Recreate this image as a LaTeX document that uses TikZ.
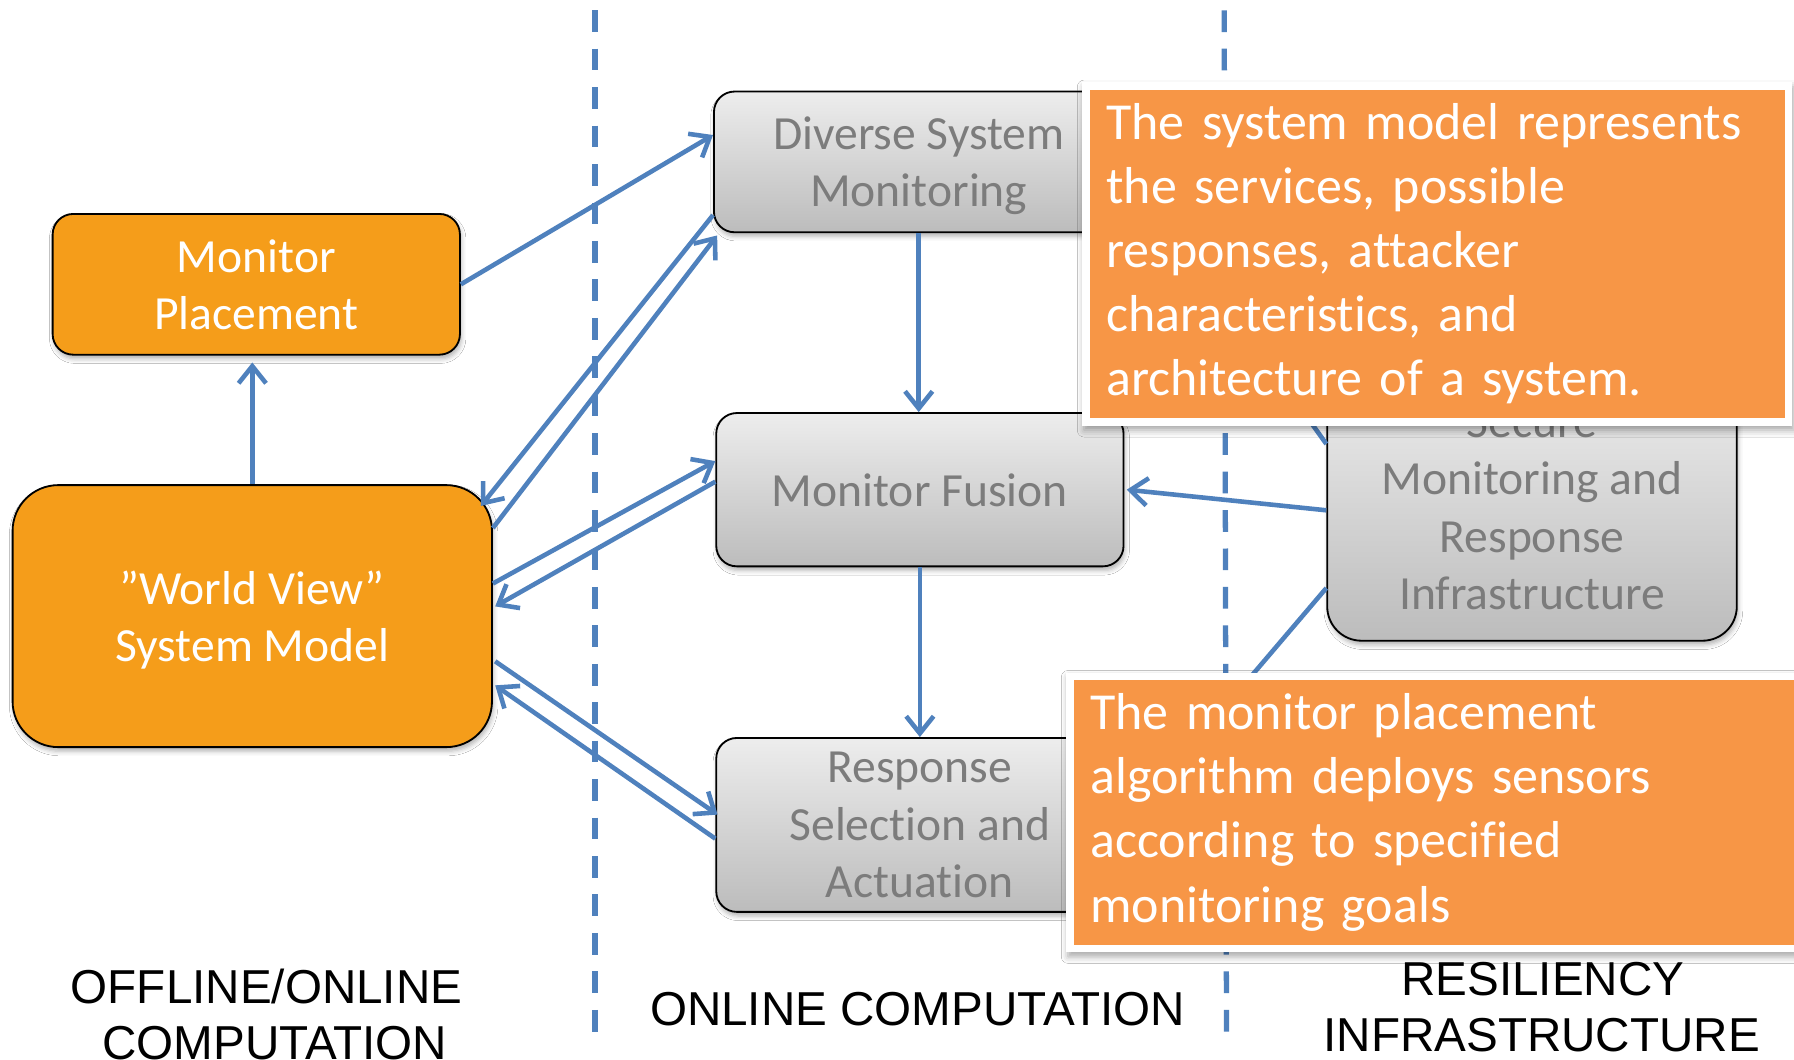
\documentclass[tikz,border=0pt]{standalone}
\usepackage{fontspec}
\setmainfont{Carlito}[Ligatures=NoCommon]
\newfontfamily\capsfamily{Liberation Sans}
\usetikzlibrary{arrows.meta,shadows.blur}

\definecolor{blockorange}{HTML}{F59D1A}
\definecolor{noteorange}{HTML}{F79646}
\definecolor{linkblue}{HTML}{4F81BD}
\definecolor{greytop}{HTML}{EDEDED}
\definecolor{greybot}{HTML}{BCBCBC}
\definecolor{greytext}{HTML}{7C7C7C}

\newcommand\boxfont{\fontsize{20.8}{25}\selectfont}
\newcommand\notefont{\fontsize{22.7}{28}\selectfont}
\newcommand\tagfont{\capsfamily\fontsize{20.8}{24.8}\selectfont}

\tikzset{
  softshadow/.style={blur shadow={shadow xshift=0.6pt, shadow yshift=-1.8pt,
      shadow blur radius=2pt, shadow opacity=30}},
  pbox/.style={draw=black, line width=0.8pt, rounded corners=9pt, align=center,
      font=\boxfont, inner sep=0pt, text depth=0pt, softshadow},
  hotbox/.style={pbox, fill=blockorange, text=white},
  coolbox/.style={pbox, top color=greytop, bottom color=greybot, text=greytext},
  link/.style={draw=linkblue, line width=2pt,
      -{Straight Barb[length=7.5pt,width=12pt]}},
  divider/.style={draw=linkblue, line width=2.3pt, dash pattern=on 9.5pt off 7.3pt},
  noteframe/.style={fill=white, inner sep=0pt,
      blur shadow={shadow xshift=0.8pt, shadow yshift=-2pt,
      shadow blur radius=3pt, shadow opacity=35}},
  notefill/.style={fill=noteorange, text=white, font=\notefont, align=left,
      inner ysep=0pt, inner xsep=7pt},
  tag/.style={font=\tagfont, text=black, inner sep=0pt, anchor=base}
}

\begin{document}
\begin{tikzpicture}[x=0.5pt, y=-0.5pt]
  \useasboundingbox (0,0) rectangle (1568,926);
  \clip (0,0) rectangle (1568,926);
  \fill[white] (0,0) rectangle (1568,926);

  % column dividers
  \draw[divider] (520,9) -- (520,915);
  \draw[divider] (1070,9) -- (1072,915);

  % blocks
  \node[hotbox, minimum width=178pt, minimum height=61.5pt] (mp) at (224,248.5)
      {Monitor\\Placement};
  \node[hotbox, rounded corners=20pt, minimum width=209.5pt, minimum height=114.5pt]
      (wv) at (220.5,538.5) {”World View”\\System Model};
  \node[coolbox, minimum width=179pt, minimum height=61.5pt] (dsm) at (803,141.5)
      {Diverse System\\Monitoring};
  \node[coolbox, minimum width=178pt, minimum height=67pt] (mf) at (804,428)
      {Monitor Fusion};
  \node[coolbox, minimum width=178pt, minimum height=76pt] (rsa) at (804,721)
      {Response\\Selection and\\Actuation};
  \node[coolbox, rounded corners=15pt, minimum width=179pt, minimum height=116pt]
      (smr) at (1339,444) {Secure\\Monitoring and\\Response\\Infrastructure};

  % connectors
  \draw[link] (wv.north) -- ([yshift=-3pt]wv.north |- mp.south);
  \draw[link] (mp.east) -- ([yshift=11.75pt]dsm.west);
  \draw[link] ([yshift=-23.25pt]dsm.west) -- ([xshift=-5.25pt,yshift=-9.5pt]wv.north east);
  \draw[link] ([yshift=38.5pt]wv.east) -- ([xshift=1.8pt,yshift=-1pt]dsm.south west);
  \draw[link] ([yshift=14.25pt]wv.east) -- ([yshift=12.5pt]mf.west);
  \draw[link] ([yshift=3.5pt]mf.west) -- ([xshift=1pt,yshift=4.25pt]wv.east);
  \draw[link] ([xshift=1pt,yshift=-19.75pt]wv.east) -- ([xshift=1pt,yshift=4.5pt]rsa.west);
  \draw[link] ([yshift=-6pt]rsa.west) -- ([xshift=1pt,yshift=-30.25pt]wv.east);
  \draw[link] (dsm.south) -- (dsm.south |- mf.north);
  \draw[link] (mf.south) -- (mf.south |- rsa.north);
  \draw[link] ([yshift=-1pt]smr.west) -- ([xshift=1pt]mf.east);
  \draw[link] ([yshift=28pt]smr.west) -- (dsm.east);
  \draw[link] ([yshift=-35pt]smr.west) -- (rsa.east);

  % notes
  \node[noteframe, minimum width=310pt, minimum height=150pt] (noteAframe) at (1256,222) {};
  \node[notefill, minimum height=143pt, text width=289.5pt] (noteA) at (1256.5,222)
      {The system model represents\\the services, possible\\responses, attacker\\characteristics, and\\architecture of a system.};
  \node[noteframe, minimum width=330pt, minimum height=122pt] (noteBframe) at (1262,710) {};
  \node[notefill, minimum height=116pt, text width=309.5pt] (noteB) at (1262.5,710)
      {The monitor placement\\algorithm deploys sensors\\according to specified\\monitoring goals};

  % column captions
  \node[tag] (offA) at (233,877) {OFFLINE/ONLINE};
  \node[tag] (offB) at (240,926) {COMPUTATION};
  \node[tag] (onl) at (802,896) {ONLINE COMPUTATION};
  \node[tag] (resA) at (1348.5,870) {RESILIENCY};
  \node[tag] (resB) at (1347.5,919) {INFRASTRUCTURE};
\end{tikzpicture}
\end{document}
